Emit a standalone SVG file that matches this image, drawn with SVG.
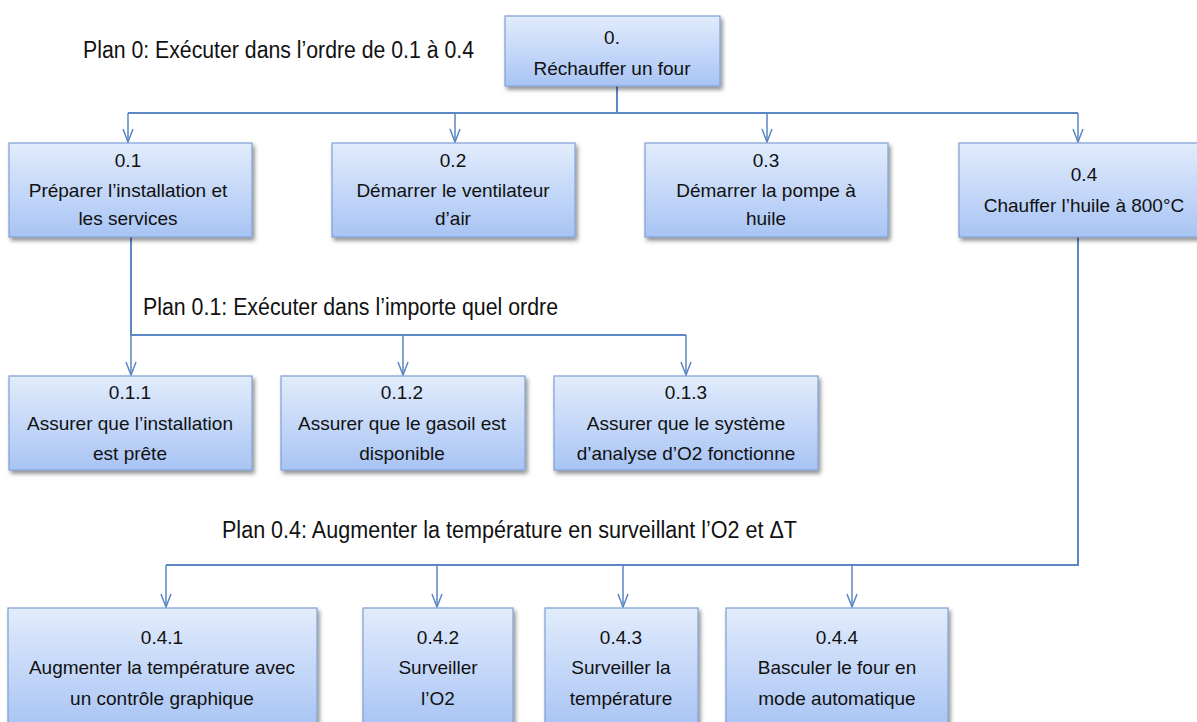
<svg xmlns="http://www.w3.org/2000/svg" width="1197" height="722" viewBox="0 0 1197 722">
<defs>
<linearGradient id="g" x1="0" y1="0" x2="0" y2="1">
<stop offset="0" stop-color="#e2ecfc"/>
<stop offset="1" stop-color="#a8c4f4"/>
</linearGradient>
<filter id="sh" x="-10%" y="-10%" width="125%" height="130%">
<feDropShadow dx="2" dy="3" stdDeviation="2" flood-color="#000" flood-opacity="0.45"/>
</filter>
<marker id="arr" markerWidth="16" markerHeight="12" refX="14" refY="6" orient="auto" markerUnits="userSpaceOnUse">
<path d="M1,1 L14,6 L1,11" fill="none" stroke="#5b87c4" stroke-width="1.5"/>
</marker>
<style>
.box{fill:url(#g);stroke:#7fa0d4;stroke-width:1.2;filter:url(#sh)}
.t{font-family:"Liberation Sans",Arial,sans-serif;font-size:19px;fill:#111;text-anchor:middle}
.p{font-family:"Liberation Sans",Arial,sans-serif;font-size:23px;fill:#111}
.c{fill:none;stroke:#5b87c4;stroke-width:2}
.a{fill:none;stroke:#5b87c4;stroke-width:1.5;marker-end:url(#arr)}
</style>
</defs>
<rect width="1197" height="722" fill="#fff"/>
<g id="connectors">
<path class="c" d="M617,86 V113 M128,113 H1078"/>
<path class="a" d="M128,113 V142"/>
<path class="a" d="M455,113 V142"/>
<path class="a" d="M767,113 V142"/>
<path class="a" d="M1078,113 V142"/>
<path class="c" d="M131,237 V335 H686"/>
<path class="a" d="M131,335 V375"/>
<path class="a" d="M403,335 V375"/>
<path class="a" d="M686,335 V375"/>
<path class="c" d="M1078,237 V565 H166"/>
<path class="a" d="M166,565 V607"/>
<path class="a" d="M437,565 V607"/>
<path class="a" d="M623,565 V607"/>
<path class="a" d="M852,565 V607"/>
</g>
<g id="plans">
<text class="p" x="83" y="58" textLength="391" lengthAdjust="spacingAndGlyphs">Plan 0: Exécuter dans l’ordre de 0.1 à 0.4</text>
<text class="p" x="143" y="315" textLength="415" lengthAdjust="spacingAndGlyphs">Plan 0.1: Exécuter dans l’importe quel ordre</text>
<text class="p" x="222" y="538" textLength="575" lengthAdjust="spacingAndGlyphs">Plan 0.4: Augmenter la température en surveillant l’O2 et ΔT</text>
</g>
<g id="n0"><rect class="box" x="505" y="16" width="215" height="70"/>
<text class="t" x="612" y="44">0.</text><text class="t" x="612" y="75">Réchauffer un four</text></g>
<g id="n01"><rect class="box" x="9" y="143" width="243" height="94"/>
<text class="t" x="128" y="167">0.1</text><text class="t" x="128" y="197">Préparer l’installation et</text><text class="t" x="128" y="225">les services</text></g>
<g id="n02"><rect class="box" x="332" y="143" width="243" height="94"/>
<text class="t" x="453" y="167">0.2</text><text class="t" x="453" y="197">Démarrer le ventilateur</text><text class="t" x="453" y="225">d’air</text></g>
<g id="n03"><rect class="box" x="645" y="143" width="243" height="94"/>
<text class="t" x="766" y="167">0.3</text><text class="t" x="766" y="197">Démarrer la pompe à</text><text class="t" x="766" y="225">huile</text></g>
<g id="n04"><rect class="box" x="959" y="143" width="240" height="94"/>
<text class="t" x="1084" y="181">0.4</text><text class="t" x="1084" y="212">Chauffer l’huile à 800°C</text></g>
<g id="n011"><rect class="box" x="9" y="376" width="243" height="94"/>
<text class="t" x="130" y="399">0.1.1</text><text class="t" x="130" y="430">Assurer que l’installation</text><text class="t" x="130" y="460">est prête</text></g>
<g id="n012"><rect class="box" x="281" y="376" width="244" height="94"/>
<text class="t" x="402" y="399">0.1.2</text><text class="t" x="402" y="430">Assurer que le gasoil est</text><text class="t" x="402" y="460">disponible</text></g>
<g id="n013"><rect class="box" x="554" y="376" width="264" height="94"/>
<text class="t" x="686" y="399">0.1.3</text><text class="t" x="686" y="430">Assurer que le système</text><text class="t" x="686" y="460">d’analyse d’O2 fonctionne</text></g>
<g id="n041"><rect class="box" x="8" y="608" width="309" height="120"/>
<text class="t" x="162" y="644">0.4.1</text><text class="t" x="162" y="674">Augmenter la température avec</text><text class="t" x="162" y="705">un contrôle graphique</text></g>
<g id="n042"><rect class="box" x="363" y="608" width="150" height="120"/>
<text class="t" x="438" y="644">0.4.2</text><text class="t" x="438" y="674">Surveiller</text><text class="t" x="438" y="705">l’O2</text></g>
<g id="n043"><rect class="box" x="545" y="608" width="153" height="120"/>
<text class="t" x="621" y="644">0.4.3</text><text class="t" x="621" y="674">Surveiller la</text><text class="t" x="621" y="705">température</text></g>
<g id="n044"><rect class="box" x="726" y="608" width="222" height="120"/>
<text class="t" x="837" y="644">0.4.4</text><text class="t" x="837" y="674">Basculer le four en</text><text class="t" x="837" y="705">mode automatique</text></g>
</svg>
